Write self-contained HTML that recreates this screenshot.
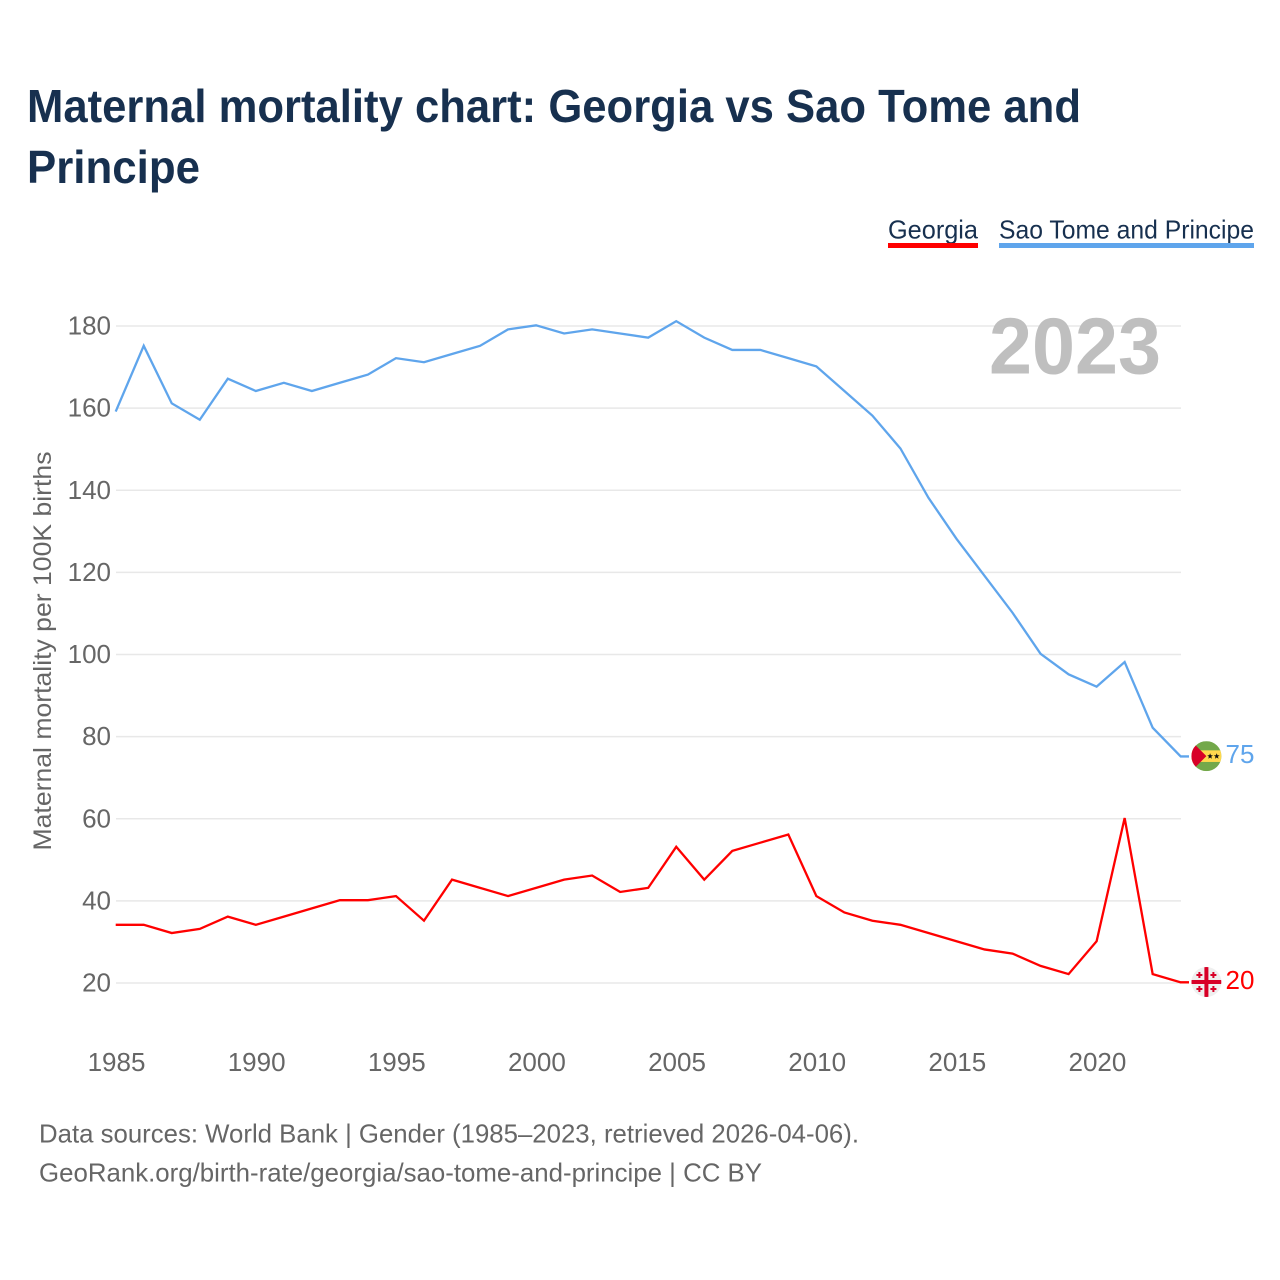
<!DOCTYPE html>
<html lang="en">
<head>
<meta charset="utf-8">
<title>Maternal mortality chart: Georgia vs Sao Tome and Principe</title>
<style>
html,body{margin:0;padding:0;background:#fff}
svg{display:block}
text{font-family:"Liberation Sans",sans-serif}
</style>
</head>
<body>
<svg id="chart" xmlns="http://www.w3.org/2000/svg" width="1280" height="1280" viewBox="0 0 1280 1280">
  <rect x="0" y="0" width="1280" height="1280" fill="#fff"/>
  <text x="27" y="122" font-size="46" font-weight="700" fill="#17304f" textLength="1054" lengthAdjust="spacingAndGlyphs">Maternal mortality chart: Georgia vs Sao Tome and</text>
  <text x="27" y="183" font-size="46" font-weight="700" fill="#17304f" textLength="173" lengthAdjust="spacingAndGlyphs">Principe</text>

  <g>
    <text x="888" y="238.500" font-size="26" fill="#17304f" textLength="90" lengthAdjust="spacingAndGlyphs">Georgia</text>
    <rect x="888" y="243" width="90" height="5" fill="#ff0000"/>
  </g>
  <g>
    <text x="999" y="238.500" font-size="26" fill="#17304f" textLength="255" lengthAdjust="spacingAndGlyphs">Sao Tome and Principe</text>
    <rect x="999" y="243" width="255" height="5" fill="#5fa5ec"/>
  </g>

  <g id="grid"></g>
  <g id="y-ticks"></g>
  <g id="x-ticks"></g>

  <text transform="translate(51 651) rotate(-90)" text-anchor="middle" font-size="25" fill="#666" textLength="399" lengthAdjust="spacingAndGlyphs">Maternal mortality per 100K births</text>
  <text id="year" x="989" y="373.500" font-size="80" font-weight="700" fill="#bfbfbf" textLength="172" lengthAdjust="spacingAndGlyphs">2023</text>

  <g id="series"></g>

  <g id="flag-sao">
    <clipPath id="clip-sao"><circle cx="0" cy="0" r="15"/></clipPath>
    <g clip-path="url(#clip-sao)">
      <rect x="-15" y="-15" width="30" height="30" fill="#73a84a"/>
      <rect x="-15" y="-5.800" width="30" height="11.600" fill="#ffd84d"/>
      <path d="M-15-15 L0 0 L-15 15 Z" fill="#d80027"/>
      <path d="M3.700-2.900l.8 2 2.100.1-1.700 1.300.6 2.100-1.800-1.200-1.800 1.200.6-2.100-1.700-1.300 2.100-.1z" fill="#111"/>
      <path d="M10.300-2.900l.8 2 2.100.1-1.700 1.300.6 2.100-1.800-1.200-1.800 1.200.6-2.100-1.700-1.300 2.100-.1z" fill="#111"/>
    </g>
  </g>
  <g id="flag-geo">
    <clipPath id="clip-geo"><circle cx="0" cy="0" r="15"/></clipPath>
    <g clip-path="url(#clip-geo)">
      <rect x="-15" y="-15" width="30" height="30" fill="#efefef"/>
      <rect x="-2" y="-15" width="4" height="30" fill="#d80027"/>
      <rect x="-15" y="-2" width="30" height="4" fill="#d80027"/>
      <path d="M-8-10h2v2h2v2h-2v2h-2v-2h-2v-2h2z" fill="#d80027"/>
      <path d="M6-10h2v2h2v2h-2v2h-2v-2h-2v-2h2z" fill="#d80027"/>
      <path d="M-8 4h2v2h2v2h-2v2h-2v-2h-2v-2h2z" fill="#d80027"/>
      <path d="M6 4h2v2h2v2h-2v2h-2v-2h-2v-2h2z" fill="#d80027"/>
    </g>
  </g>
  <text id="end-sao" x="1225.500" font-size="26" fill="#5fa5ec"></text>
  <text id="end-geo" x="1225.500" font-size="26" fill="#ff0000"></text>

  <text x="39" y="1142.500" font-size="26" fill="#666" textLength="820" lengthAdjust="spacingAndGlyphs">Data sources: World Bank | Gender (1985–2023, retrieved 2026-04-06).</text>
  <text x="39" y="1181.500" font-size="26" fill="#666" textLength="723" lengthAdjust="spacingAndGlyphs">GeoRank.org/birth-rate/georgia/sao-tome-and-principe | CC BY</text>
</svg>
<script>
const startYear = 1985;
const endYear = 2023;
const xTickLabels = [1985, 1990, 1995, 2000, 2005, 2010, 2015, 2020];
const yTickLabels = [20, 40, 60, 80, 100, 120, 140, 160, 180];
const georgiaValues = [34, 34, 32, 33, 36, 34, 36, 38, 40, 40, 41, 35, 45, 43, 41, 43, 45, 46, 42, 43, 53, 45, 52, 54, 56, 41, 37, 35, 34, 32, 30, 28, 27, 24, 22, 30, 60, 22, 20];
const saoTomeValues = [159, 175, 161, 157, 167, 164, 166, 164, 166, 168, 172, 171, 173, 175, 179, 180, 178, 179, 178, 177, 181, 177, 174, 174, 172, 170, 164, 158, 150, 138, 128, 119, 110, 100, 95, 92, 98, 82, 75];

const NS = 'http://www.w3.org/2000/svg';
const X0 = 116, X1 = 1181;
const LINE_DY = -0.7, LINE_DX = -0.3;
function xScale(year) {
  return X0 + (year - startYear) * (X1 - X0) / (endYear - startYear);
}
function yScale(value) {
  return 983 - (value - 20) * (983 - 326) / 160;
}

const gridGroup = document.getElementById('grid');
const yTickGroup = document.getElementById('y-ticks');
const xTickGroup = document.getElementById('x-ticks');
const seriesGroup = document.getElementById('series');

yTickLabels.forEach(function (v) {
  const line = document.createElementNS(NS, 'line');
  
  
  line.setAttribute('x1', X0);
  line.setAttribute('x2', X1);
  line.setAttribute('y1', yScale(v));
  line.setAttribute('y2', yScale(v));
  line.setAttribute('stroke', '#e8e8e8');
  line.setAttribute('stroke-width', '1.5');
  gridGroup.appendChild(line);

  const label = document.createElementNS(NS, 'text');
  
  
  label.setAttribute('x', 111);
  label.setAttribute('y', yScale(v) + 8.5);
  label.setAttribute('text-anchor', 'end');
  label.setAttribute('font-size', '26');
  label.setAttribute('fill', '#666');
  label.textContent = v;
  yTickGroup.appendChild(label);
});

xTickLabels.forEach(function (yr) {
  const label = document.createElementNS(NS, 'text');
  
  
  label.setAttribute('x', xScale(yr) + 0.5);
  label.setAttribute('y', 1071);
  label.setAttribute('text-anchor', 'middle');
  label.setAttribute('font-size', '26');
  label.setAttribute('fill', '#666');
  label.textContent = yr;
  xTickGroup.appendChild(label);
});

function drawSeries(values, color, name) {
  const path = document.createElementNS(NS, 'path');
  
  
  const pts = values.map(function (v, i) {
    return (i ? 'L' : 'M') + (xScale(startYear + i) + LINE_DX).toFixed(2) + ' ' + (yScale(v) + LINE_DY).toFixed(2);
  }).join(' ');
  const last = values[values.length - 1];
  path.setAttribute('d', pts + ' L' + (X1 + 8) + ' ' + (yScale(last) + LINE_DY).toFixed(2));
  path.setAttribute('fill', 'none');
  path.setAttribute('stroke', color);
  path.setAttribute('stroke-width', '2.3');
  path.setAttribute('stroke-linejoin', 'miter');
  seriesGroup.appendChild(path);
}
drawSeries(saoTomeValues, '#5fa5ec', 'line-sao-tome');
drawSeries(georgiaValues, '#ff0000', 'line-georgia');

const saoLast = saoTomeValues[saoTomeValues.length - 1];
const geoLast = georgiaValues[georgiaValues.length - 1];
document.getElementById('flag-sao').setAttribute('transform', 'translate(1206.4 ' + (yScale(saoLast) - 1) + ')');
document.getElementById('flag-geo').setAttribute('transform', 'translate(1206.4 ' + (yScale(geoLast) - 1) + ')');
const endSao = document.getElementById('end-sao');
endSao.setAttribute('y', yScale(saoLast) + 6);
endSao.textContent = saoLast;
const endGeo = document.getElementById('end-geo');
endGeo.setAttribute('y', yScale(geoLast) + 6);
endGeo.textContent = geoLast;
</script>
</body>
</html>
